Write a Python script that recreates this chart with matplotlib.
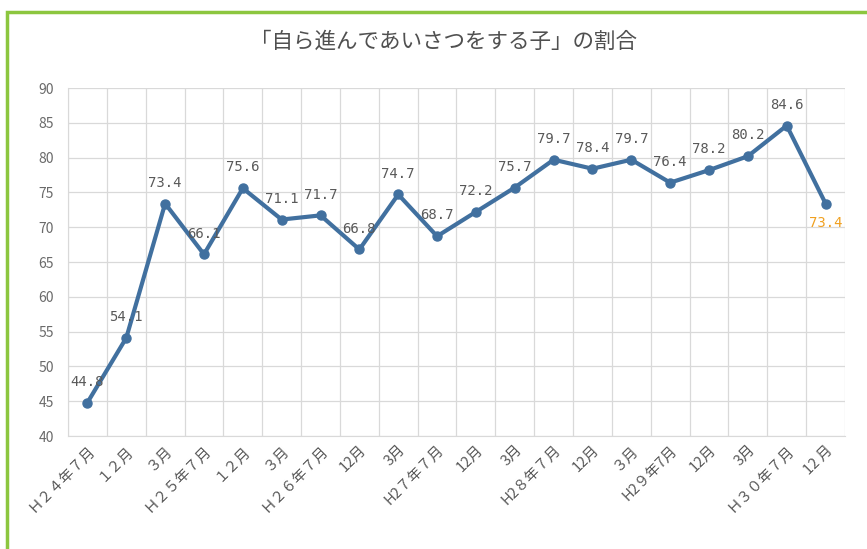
import matplotlib.pyplot as plt
from matplotlib.patches import Rectangle

plt.rcParams['font.family'] = ['Noto Sans CJK JP', 'DejaVu Sans']

# data
labels = ['Ｈ２４年７月', '１２月', '３月', 'Ｈ２５年７月', '１２月', '３月',
          'Ｈ２６年７月', '12月', '3月', 'H2７年７月', '12月', '3月',
          'H2８年７月', '12月', '３月', 'H2９年7月', '12月', '3月',
          'Ｈ３０年７月', '12 月']
values = [44.8, 54.1, 73.4, 66.1, 75.6, 71.1, 71.7, 66.8, 74.7, 68.7,
          72.2, 75.7, 79.7, 78.4, 79.7, 76.4, 78.2, 80.2, 84.6, 73.4]

line_col = '#41709f'
text_col = '#595959'
grid_col = '#d9d9d9'

fig = plt.figure(figsize=(8.67, 5.49), dpi=100)
ax = fig.add_axes([68 / 867, 1 - 436 / 549, 777 / 867, 348 / 549])

x = list(range(len(values)))
ax.plot(x, values, color=line_col, lw=3, marker='o', ms=6.5, zorder=3)

for i, v in enumerate(values):
    col = '#f0a020' if i == len(values) - 1 else text_col
    dy = -14 if i == len(values) - 1 else 15
    ax.annotate(f'{v:.1f}', (i, v), xytext=(0, dy), textcoords='offset points',
                ha='center', va='center', fontsize=10, color=col,
                family=['DejaVu Sans Mono'])

ax.set_xlim(-0.5, len(values) - 0.5)
ax.set_ylim(40, 90)
ax.set_yticks(range(40, 91, 5))
ax.set_xticks([i + 0.5 for i in range(-1, len(values))], minor=False)
ax.set_xticklabels([])
ax.set_xticks(x, minor=True)
ax.set_xticklabels(labels, minor=True, rotation=45, ha='right',
                   rotation_mode='anchor', fontsize=10.5, color=text_col)
ax.tick_params(axis='x', which='both', length=0, pad=5)
ax.tick_params(axis='y', length=0, labelsize=10, labelcolor='#6a6a6a', pad=10)
ax.grid(True, which='major', color=grid_col, lw=0.9)
ax.set_axisbelow(True)
for s in ax.spines.values():
    s.set_color(grid_col)
ax.spines['top'].set_visible(False)
ax.spines['right'].set_visible(False)

fig.text(444 / 867, 1 - 42 / 549, '「自ら進んであいさつをする子」の割合',
         ha='center', va='center', fontsize=15.5, color='#505050')

# green frame around the chart
fig.patches.append(Rectangle((7 / 867, -0.05), 1.0, 1 - 12 / 549 + 0.05,
                             transform=fig.transFigure, fill=False,
                             edgecolor='#8cc63f', lw=2.5))

fig.savefig('out.png', dpi=100)
